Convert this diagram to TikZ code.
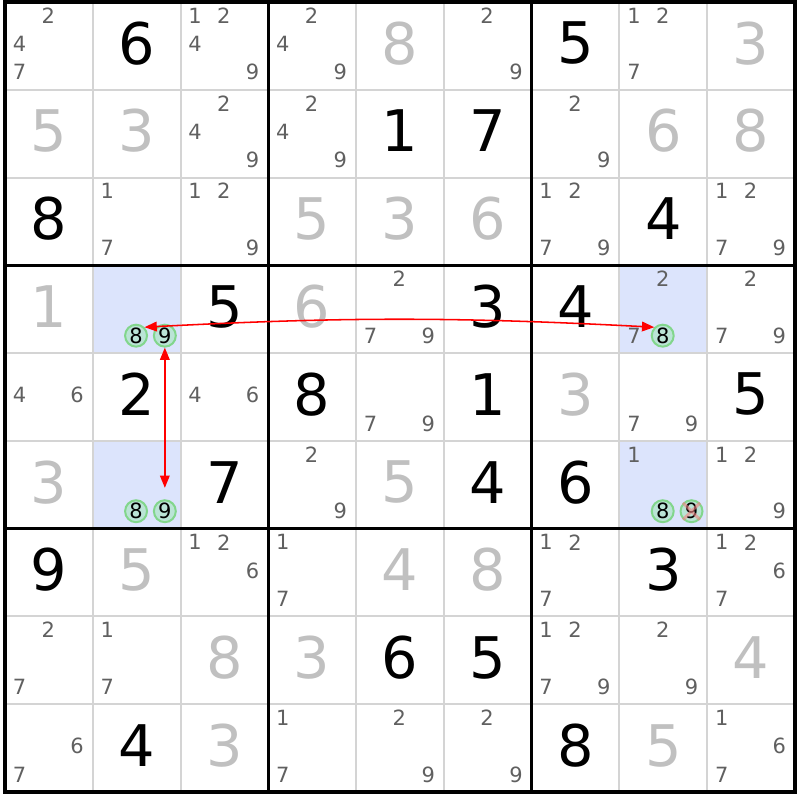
\documentclass[tikz,border=0pt]{standalone}
\usepackage{fontspec}
\setmainfont{DejaVu Sans}
\usetikzlibrary{arrows.meta}
\definecolor{gridgray}{RGB}{212,212,212}
\definecolor{solvedgray}{RGB}{192,192,192}
\definecolor{candgray}{RGB}{96,96,96}
\definecolor{cellblue}{RGB}{220,228,252}
\definecolor{ringgreen}{RGB}{130,214,140}
\definecolor{ringfill}{RGB}{186,228,214}
\definecolor{crossred}{RGB}{240,130,130}
\tikzset{given digit/.style={
        font=\fontsize{18.6}{20}\selectfont, text=#1, inner sep=0pt,
    },
    cand digit/.style={
        font=\fontsize{6.8}{8}\selectfont, text=candgray, inner sep=0pt,
    },
    cand ring/.style={
        circle, draw=ringgreen, fill=ringfill, line width=0.65pt,
        minimum size=0.25cm, inner sep=0pt,
        font=\fontsize{6.8}{8}\selectfont, text=black,
    },
    link arrow/.style={
        red, line width=0.5pt,
        {Triangle[length=0.14cm,width=0.11cm]}-{Triangle[length=0.14cm,width=0.11cm]},
    },
}

\begin{document}
\begin{tikzpicture}[x=1cm, y=-1cm]
    \useasboundingbox (-0.057,-0.023) rectangle (9.057,9.091);

    %% highlighted cells
    \foreach \r/\c in {3/1, 5/1, 3/7, 5/7}
        \fill[cellblue] (\c,\r) rectangle ++(1,1);

    %% the grid
    \foreach \i in {1,2,4,5,7,8} {
        \draw[gridgray, line width=0.65pt] (\i,0) -- (\i,9);
        \draw[gridgray, line width=0.65pt] (0,\i) -- (9,\i);
    }
    \foreach \i in {0,3,6,9} {
        \draw[black, line width=1.15pt] (\i,-0.02) -- (\i,9.02);
        \draw[black, line width=1.15pt] (-0.02,\i) -- (9.02,\i);
    }

    %% givens (black) and solved digits (gray)
    \foreach \r/\c/\d in {0/1/6, 0/6/5, 1/4/1, 1/5/7, 2/0/8, 2/7/4, 3/2/5, 3/5/3,
            3/6/4, 4/1/2, 4/3/8, 4/5/1, 4/8/5, 5/2/7, 5/5/4, 5/6/6, 6/0/9, 6/7/3,
            7/4/6, 7/5/5, 8/1/4, 8/6/8}
        \node[given digit=black] (d-\r-\c) at (\c+0.5,\r+0.47) {\d};
    \foreach \r/\c/\d in {0/4/8, 0/8/3, 1/0/5, 1/1/3, 1/7/6, 1/8/8, 2/3/5, 2/4/3,
            2/5/6, 3/0/1, 3/3/6, 4/6/3, 5/0/3, 5/4/5, 6/1/5, 6/4/4, 6/5/8, 7/2/8,
            7/3/3, 7/8/4, 8/2/3, 8/7/5}
        \node[given digit=solvedgray] (d-\r-\c) at (\c+0.5,\r+0.47) {\d};

    %% pencil marks
    \foreach \r/\c/\ks in {0/0/{2,4,7}, 0/2/{1,2,4,9}, 0/3/{2,4,9}, 0/5/{2,9},
            0/7/{1,2,7}, 1/2/{2,4,9}, 1/3/{2,4,9}, 1/6/{2,9}, 2/1/{1,7},
            2/2/{1,2,9}, 2/6/{1,2,7,9}, 2/8/{1,2,7,9}, 3/4/{2,7,9}, 3/7/{2,7},
            3/8/{2,7,9}, 4/0/{4,6}, 4/2/{4,6}, 4/4/{7,9}, 4/7/{7,9}, 5/3/{2,9},
            5/7/{1}, 5/8/{1,2,9}, 6/2/{1,2,6}, 6/3/{1,7}, 6/6/{1,2,7},
            6/8/{1,2,6,7}, 7/0/{2,7}, 7/1/{1,7}, 7/6/{1,2,7,9}, 7/7/{2,9},
            8/0/{6,7}, 8/3/{1,7}, 8/4/{2,9}, 8/5/{2,9}, 8/8/{1,6,7}} {
        \foreach \k in \ks {
            \pgfmathsetmacro\kx{\c+0.165+0.328*mod(\k-1,3)}
            \pgfmathsetmacro\ky{\r+0.155+0.323*floor((\k-1)/3)}
            \node[cand digit] (n-\r-\c-\k) at (\kx,\ky) {\k};
        }
    }

    %% ringed candidates of the pattern
    \foreach \r/\c/\k in {3/1/8, 3/1/9, 3/7/8, 5/1/8, 5/1/9, 5/7/8, 5/7/9} {
        \pgfmathsetmacro\kx{\c+0.165+0.328*mod(\k-1,3)}
        \pgfmathsetmacro\ky{\r+0.155+0.323*floor((\k-1)/3)}
        \node[cand ring] (n-\r-\c-\k) at (\kx,\ky) {\k};
    }
    %% eliminated candidate
    \draw[crossred, line width=1pt, opacity=0.6] (n-5-7-9.north east) -- (n-5-7-9.south west)
        (n-5-7-9.north west) -- (n-5-7-9.south east);

    %% links
    \draw[link arrow] (n-3-7-8.north west) to[bend right=3] (n-3-1-8.north east);
    \draw[link arrow, shorten >=0.13cm] (n-3-1-9.south) -- (n-5-1-9.north);
\end{tikzpicture}
\end{document}
